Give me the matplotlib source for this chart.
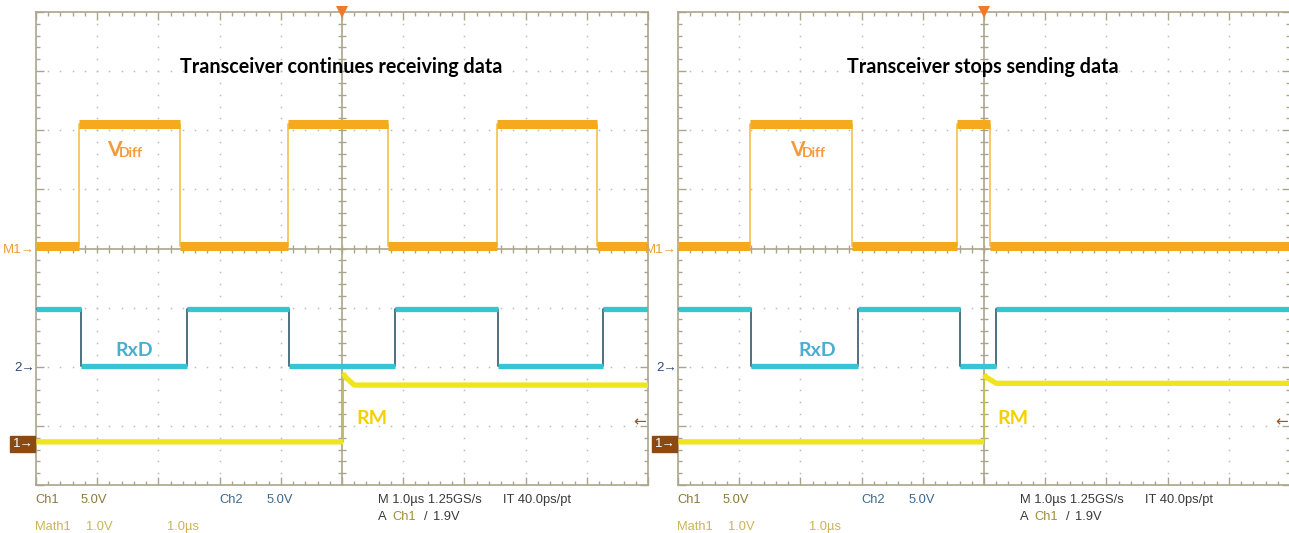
import numpy as np
import matplotlib.pyplot as plt
from matplotlib.patches import Rectangle

W, H = 1289, 533

# edge times in divisions (0..10), levels in divisions (-4..4)
panels = ["left", "right"]
titles = ["Transceiver continues receiving data", "Transceiver stops sending data"]

vdiff_edges = {"left": [0.70, 2.35, 4.12, 5.75, 7.53, 9.17],
               "right": [1.18, 2.84, 4.56, 5.10]}
vdiff_low, vdiff_high = 0.05, 2.10

rxd_edges = {"left": [0.74, 2.47, 4.13, 5.87, 7.55, 9.26],
             "right": [1.19, 2.94, 4.61, 5.20]}
rxd_high, rxd_low = -1.02, -1.99

rm_t = {"left": [0, 5.02, 5.02, 5.06, 5.2, 10],
        "right": [0, 5.00, 5.00, 5.04, 5.2, 10]}
rm_v = {"left": [-3.27, -3.27, -2.11, -2.18, -2.31, -2.31],
        "right": [-3.27, -3.27, -2.13, -2.18, -2.28, -2.28]}

row1 = [("Ch1", -1, '#8c7a3c'), ("5.0V", 45, '#8c7a3c'), ("Ch2", 183, '#3d6a8c'),
        ("5.0V", 231, '#3d6a8c'), ("M 1.0µs 1.25GS/s", 342, '#3a3a3a'),
        ("IT 40.0ps/pt", 467, '#3a3a3a')]
row2 = [("A", 342, '#3a3a3a'), ("Ch1", 356, '#a08c40'), ("/", 388, '#3a3a3a'),
        ("1.9V", 397, '#3a3a3a')]
row3 = [("Math1", -1, '#c8b45a'), ("1.0V", 50, '#c8b45a'), ("1.0µs", 131, '#c8b45a')]

orange = '#f5a91c'
cyan = '#35c5d3'
yellow = '#eee51c'
frame = '#aaa58c'
dots = '#bdbdbd'

left_px = {"left": 36, "right": 678}
top_px, bot_px, width_px = 12, 485, 612


def fx(px):
    return px / W


def fy(py):
    return 1 - py / H


def step_wave(edges, first, second):
    t = [0.0]
    v = [first]
    level = first
    for e in edges:
        t += [e, e]
        nxt = second if level == first else first
        v += [level, nxt]
        level = nxt
    t.append(10.0)
    v.append(level)
    return np.array(t), np.array(v)


def draw_trace(ax, t, v, color, lw, edge_color, edge_lw=1.1):
    ax.plot(t, v, color=edge_color, lw=edge_lw, zorder=3)
    tt, vv = [], []
    for i in range(len(t)):
        tt.append(t[i])
        vv.append(v[i])
        if i + 1 < len(t) and t[i + 1] == t[i]:
            tt.append(np.nan)
            vv.append(np.nan)
    ax.plot(tt, vv, color=color, lw=lw, zorder=4, solid_capstyle='butt')


fig = plt.figure(figsize=(W / 100, H / 100), dpi=100)

for k, p in enumerate(panels):
    x0 = left_px[p]
    ax = fig.add_axes([fx(x0), fy(bot_px), width_px / W, (bot_px - top_px) / H])
    ax.set_xlim(0, 10)
    ax.set_ylim(-4, 4)
    for s in ax.spines.values():
        s.set_color(frame)
        s.set_linewidth(1.2)
    ax.set_xticks(np.arange(0, 11, 1))
    ax.set_yticks(np.arange(-4, 5, 1))
    ax.set_xticks(np.arange(0, 10.01, 0.2), minor=True)
    ax.set_yticks(np.arange(-4, 4.01, 0.2), minor=True)
    ax.tick_params(which='both', direction='in', top=True, right=True,
                   labelbottom=False, labelleft=False, color=frame, width=1)
    ax.tick_params(which='major', length=6)
    ax.tick_params(which='minor', length=3)

    # dotted graticule
    fine = np.arange(0.2, 10, 0.2)
    fine_y = np.arange(-3.8, 4, 0.2)
    for gx in [1, 2, 3, 4, 6, 7, 8, 9]:
        ax.plot(np.full(fine_y.size, gx), fine_y, ls='none', marker='s',
                ms=1.1, mew=0, color=dots, zorder=1)
    for gy in [-3, -2, -1, 1, 2, 3]:
        ax.plot(fine, np.full(fine.size, gy), ls='none', marker='s',
                ms=1.1, mew=0, color=dots, zorder=1)
    # center cross with ticks
    ax.axhline(0, color=frame, lw=1.2, zorder=2)
    ax.axvline(5, color=frame, lw=1.2, zorder=2)
    ax.plot(fine, np.zeros(fine.size), ls='none', marker='|', ms=6,
            mew=1, color=frame, zorder=2)
    ax.plot(np.full(fine_y.size, 5), fine_y, ls='none', marker='_', ms=6,
            mew=1, color=frame, zorder=2)

    t, v = step_wave(vdiff_edges[p], vdiff_low, vdiff_high)
    draw_trace(ax, t, v, orange, 6.5, '#f3bc3c')
    t, v = step_wave(rxd_edges[p], rxd_high, rxd_low)
    draw_trace(ax, t, v, cyan, 3.8, '#1f4a5c')
    draw_trace(ax, np.array(rm_t[p]), np.array(rm_v[p]), yellow, 3.8, '#c8c23a')

    # trigger marker
    ax.plot([5], [4], marker='v', ms=8, color='#f07a2a', mew=0,
            clip_on=False, zorder=6)

    # labels on the screen
    cx = x0 + width_px / 2
    fig.text(fx(cx - 1), fy(67), titles[k], ha='center', va='center',
             fontsize=14.2, fontweight='bold', family='Lato', color='black')
    lab_x = x0 + (71 if p == "left" else 112)
    fig.text(fx(lab_x), fy(150), "V", ha='left', va='center', fontsize=15,
             fontweight='bold', family='Lato', color='#f39a3a')
    fig.text(fx(lab_x + 12), fy(153), "Diff", ha='left', va='center', fontsize=10,
             fontweight='bold', family='Lato', color='#f39a3a')
    fig.text(fx(lab_x + 8), fy(350), "RxD", ha='left', va='center', fontsize=14,
             fontweight='bold', family='Lato', color='#4aaed0')
    fig.text(fx(x0 + (320 if p == "left" else 319)), fy(419), "RM", ha='left',
             va='center', fontsize=14, fontweight='bold', family='Lato',
             color='#f5d000')

    # channel markers to the left of the screen
    fig.text(fx(x0 - 1), fy(250), "M1\u2192", ha='right', va='center',
             fontsize=9.5, family='Liberation Sans', color='#e8a030')
    fig.text(fx(x0 - 1), fy(368), "2\u2192", ha='right', va='center',
             fontsize=9.5, family='Liberation Sans', color='#2c4a6e')
    fig.patches.append(Rectangle((fx(x0 - 26), fy(452)), 25 / W, 16 / H,
                                 transform=fig.transFigure, color='#8b4a12'))
    fig.text(fx(x0 - 2), fy(444), "1\u2192", ha='right', va='center',
             fontsize=9.5, family='Liberation Sans', color='white')
    fig.text(fx(x0 + width_px - 2), fy(422), "\u2190", ha='right', va='center',
             fontsize=11, family='DejaVu Sans', color='#a0521e')

    # readout below the screen
    for rows, yy in [(row1, 500), (row2, 517), (row3, 527)]:
        for txt, dx, col in rows:
            fig.text(fx(x0 + dx), fy(yy), txt, ha='left', va='center',
                     fontsize=9.3, family=['Liberation Sans', 'DejaVu Sans'],
                     color=col)

fig.savefig("out.png", dpi=100, facecolor='white')
